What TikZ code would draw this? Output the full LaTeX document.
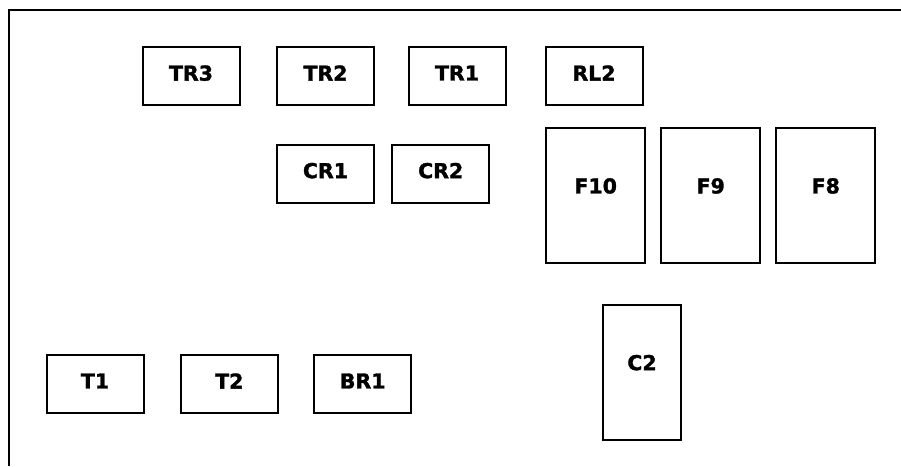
\documentclass[tikz,border=0pt]{standalone}
\usepackage{fontspec}
\setmainfont{DejaVu Sans}[BoldFeatures={FakeBold=1.5}]
\usepackage{tikz}
\usetikzlibrary{positioning}

\begin{document}
\begin{tikzpicture}[x=1pt, y=-1pt,
 every node/.style={font=\fontsize{20.5}{23}\selectfont\bfseries},
 part/.style={draw, line width=2pt, inner sep=0pt, outer sep=0pt,
   minimum width=97pt, minimum height=58pt, text depth=6pt},
 tallpart/.style={part, minimum width=99pt, minimum height=135pt, text depth=20pt}]
 \useasboundingbox (0,0) rectangle (901,466);
 \draw[line width=2.2pt] (901,10) -- (9,10) -- (9,466);
 % top row
 \node[part] (tr3) at (191,76) {TR3};
 \node[part] (tr2) at (325.5,76) {TR2};
 \node[part] (tr1) at (457,76) {TR1};
 \node[part] (rl2) at (594,76) {RL2};
 \node[part] (cr1) at (325.5,173.5) {CR1};
 \node[part] (cr2) at (440.7,173.5) {CR2};
 % fuses
 \node[tallpart] (f10) at (595.7,195.8) {F10};
 \node[tallpart] (f9) at (710.7,195.8) {F9};
 \node[tallpart] (f8) at (825.8,195.8) {F8};
 % bottom row
 \node[part] (t1) at (95,384) {T1};
 \node[part] (t2) at (229.3,384) {T2};
 \node[part] (br1) at (362.7,384) {BR1};
 \node[tallpart, minimum width=78pt] (c2) at (642,372.5) {C2};
\end{tikzpicture}
\end{document}
